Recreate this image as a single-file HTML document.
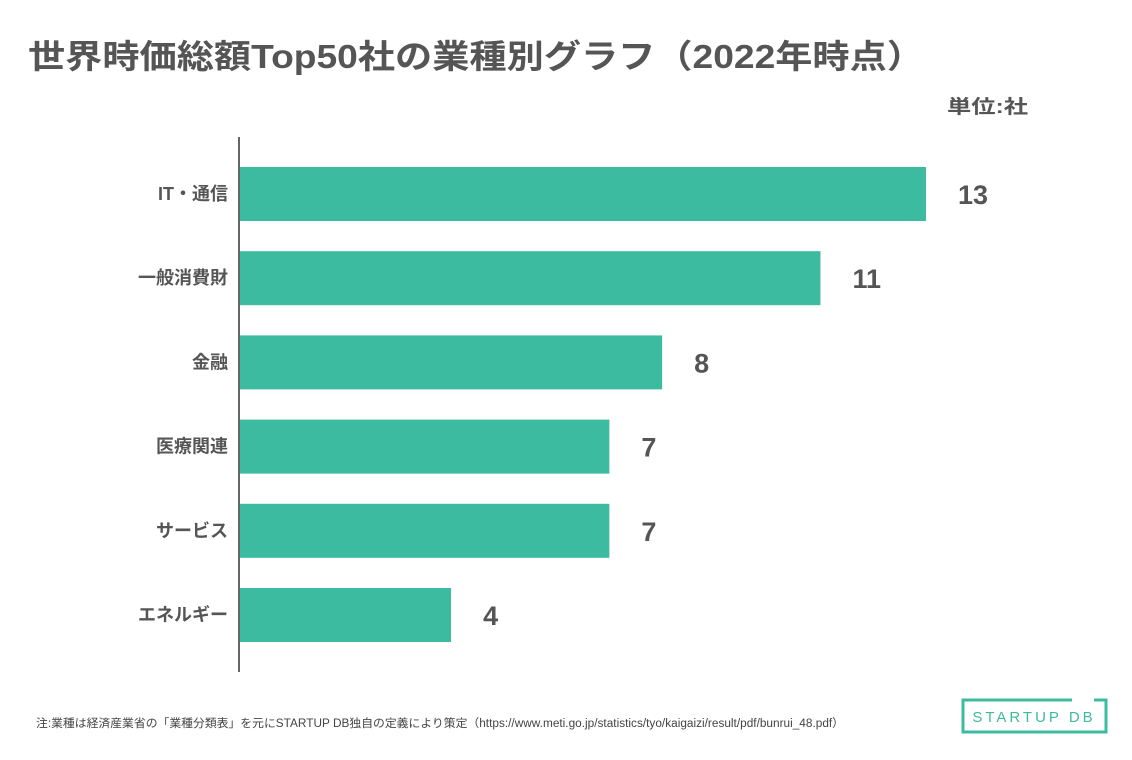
<!DOCTYPE html>
<html><head><meta charset="utf-8"><style>
body{margin:0;width:1132px;height:755px;background:#fff;overflow:hidden;font-family:"Liberation Sans","Noto Sans CJK JP",sans-serif;}
</style></head><body>
<svg width="1132" height="755" xmlns="http://www.w3.org/2000/svg">
<text x="28" y="68" font-size="33" font-weight="bold" fill="#555" textLength="896" lengthAdjust="spacingAndGlyphs" font-family="Liberation Sans,Noto Sans CJK JP,sans-serif">世界時価総額Top50社の業種別グラフ（2022年時点）</text>
<text x="947" y="113" font-size="19" font-weight="bold" fill="#555" textLength="81" lengthAdjust="spacingAndGlyphs" font-family="Liberation Sans,Noto Sans CJK JP,sans-serif">単位:社</text>
<line x1="239" y1="137" x2="239" y2="672" stroke="#333" stroke-width="1.5"/>
<g id="bars"></g>
<text x="36" y="727" font-size="11.5" fill="#444" textLength="808" lengthAdjust="spacingAndGlyphs" font-family="Liberation Sans,Noto Sans CJK JP,sans-serif">注:業種は経済産業省の「業種分類表」を元にSTARTUP DB独自の定義により策定（https://www.meti.go.jp/statistics/tyo/kaigaizi/result/pdf/bunrui_48.pdf）</text>
<g>
<path d="M1072 700 H963 V732 H1106 V700 H1094" fill="none" stroke="#3dbba0" stroke-width="3"/>
<text x="1034" y="722" font-size="15" fill="#3dbba0" text-anchor="middle" letter-spacing="3" font-family="Liberation Sans,sans-serif">STARTUP DB</text>
</g>
</svg>
<script>
const categories=["IT・通信","一般消費財","金融","医療関連","サービス","エネルギー"];
const values=[13,11,8,7,7,4];
const x0=240, unit=686/13, y0=167, step=84.2, bh=54;
const g=document.getElementById('bars');
const ns="http://www.w3.org/2000/svg";
categories.forEach((c,i)=>{
  const y=y0+i*step, w=values[i]*unit;
  const r=document.createElementNS(ns,'rect');
  r.setAttribute('x',x0);r.setAttribute('y',y);r.setAttribute('width',w);r.setAttribute('height',bh);r.setAttribute('fill','#3dbba0');
  
  
  g.appendChild(r);
  const l=document.createElementNS(ns,'text');
  l.setAttribute('x',228);l.setAttribute('y',y+bh/2+6);l.setAttribute('text-anchor','end');l.setAttribute('font-size','18');l.setAttribute('font-weight','bold');l.setAttribute('fill','#555');
  l.textContent=c;
  
  
  g.appendChild(l);
  const v=document.createElementNS(ns,'text');
  v.setAttribute('x',x0+w+32);v.setAttribute('y',y+bh/2+10);v.setAttribute('font-size','27');v.setAttribute('font-weight','bold');v.setAttribute('fill','#555');
  v.textContent=values[i];
  
  
  g.appendChild(v);
});
</script>
</body></html>
